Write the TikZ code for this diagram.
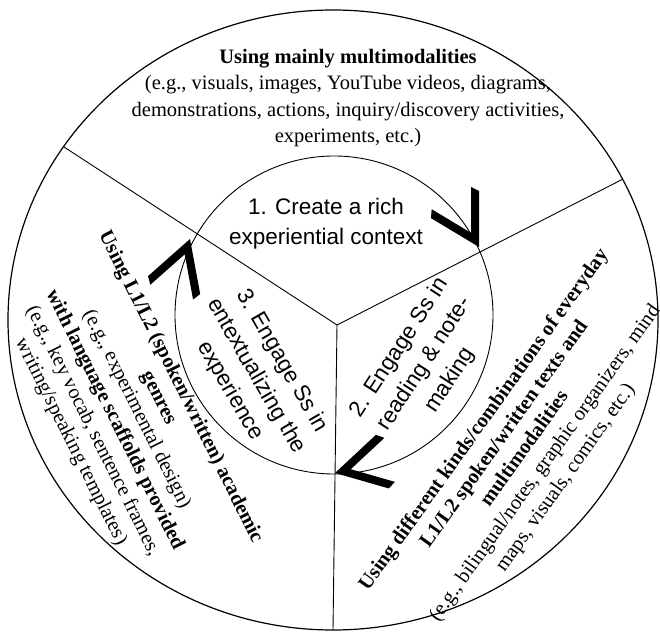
\documentclass[tikz,border=0pt]{standalone}
\usepackage{fontspec}
\setmainfont{Liberation Serif}
\newfontfamily\stepfont{Liberation Sans}

\begin{document}
\begin{tikzpicture}[x=1pt,y=1pt,
      ring/.style={line width=0.9pt},
      rim/.style={line width=1.2pt},
      outer text/.style={align=center,inner sep=0pt,font=\fontsize{20.5}{#1}\selectfont},
      step text/.style={align=center,inner sep=0pt,font=\stepfont\fontsize{22.5}{30}\selectfont},
      chev/.pic={
        \fill (0,0) -- (150.5:56) -- (-56.2,22.6) -- (-16.2,0)
          -- (-56.2,-22.6) -- (209.5:56) -- cycle;
      }]
    \useasboundingbox (-334,-319) rectangle (326,315);
    % circles
    \coordinate (oc) at (-1,-5);
    \coordinate (ic) at (0,0);
    \draw[rim] (oc) ellipse [x radius=325pt, y radius=310pt];
    \draw[ring] (ic) circle [radius=159pt];
    % the three spokes
    \coordinate (hub) at (3,-10);
    \coordinate (ul) at ([shift={(146:325pt and 310pt)}]oc);
    \coordinate (ur) at ([shift={(27:325pt and 310pt)}]oc);
    \coordinate (bt) at ([shift={(270:325pt and 310pt)}]oc);
    \draw[ring] (hub) -- (ul);
    \draw[ring] (hub) -- (ur);
    \draw[ring] (hub) -- (bt);
    % arrow heads on the inner circle
    \pic[rotate=-60.5] at (145,68) {chev};
    \pic[rotate=193.5] at (1,-158) {chev};
    \pic[rotate=71] at (-144,76) {chev};
    % inner steps
    \node[step text] (one) at (-8,91)
      {1. Create a rich\\experiential context};
    \node[step text,rotate=57] (two) at (91,-49)
      {2. Engage Ss in\\reading \& note-\\making};
    \node[step text,rotate=-60] (three) at (-78,-61)
      {3. Engage Ss in\\entextualizing the\\experience};
    % outer ring
    \node[outer text=26.5] (top) at (14,217)
      {\textbf{Using mainly multimodalities}\\
       (e.g., visuals, images, YouTube videos, diagrams,\\
       demonstrations, actions, inquiry/discovery activities,\\
       experiments, etc.)};
    \node[outer text=25,rotate=54.5] (right) at (191,-134)
      {\textbf{Using different kinds/combinations of everyday}\\
       \textbf{L1/L2 spoken/written texts and}\\
       \textbf{multimodalities}\\
       (e.g., bilingual/notes, graphic organizers, mind\\
       maps, visuals, comics, etc.)};
    \node[outer text=24.5,rotate=-63.5] (left) at (-208.5,-99.5)
      {\textbf{Using L1/L2 (spoken/written) academic}\\
       \textbf{genres}\\
       (e.g., experimental design)\\
       \textbf{with language scaffolds provided}\\
       (e.g., key vocab, sentence frames,\\
       writing/speaking templates)};
  \end{tikzpicture}
\end{document}
